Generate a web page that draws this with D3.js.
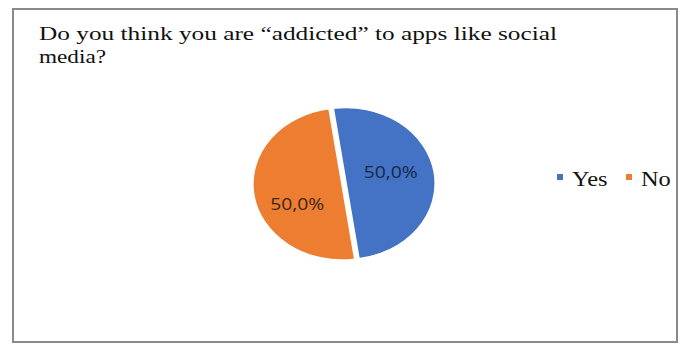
<!DOCTYPE html>
<html>
<head>
<meta charset="utf-8">
<script src="https://cdn.jsdelivr.net/npm/d3@7"></script>
<style>
  body { margin: 0; background: #fff; }
  svg { display: block; }
</style>
</head>
<body>
<svg id="svg" width="683" height="344"></svg>
<script>
const SVG = d3.select("#svg"),
  W = 683,
  H = 344,
  SX = 1.17; // the picture is stretched sideways

const titleLines = ["Do you think you are \u201caddicted\u201d to apps like social", "media?"],
  categories = ["Yes", "No"],
  values = [50, 50],
  labels = ["50,0%", "50,0%"],
  colors = ["#4472c4", "#ed7d31"];

// frame
SVG.append("rect")
  .attr("x", 13)
  .attr("y", 9)
  .attr("width", 664)
  .attr("height", 333)
  .attr("fill", "#fff")
  .attr("stroke", "#8a8a8a")
  .attr("stroke-width", 2);

// title
titleLines.forEach((t, i) => {
  var txt = SVG.append("text")
    .attr("x", 39)
    .attr("y", 40 + i * 23)
    .attr("font-family", "Liberation Serif, Times New Roman, serif")
    .attr("font-size", 19.5)
    .attr("fill", "#111")
    .text(t);
  txt.attr("textLength", i == 0 ? 518 : 67).attr("lengthAdjust", "spacingAndGlyphs");
});

// pie
var A0 = -0.145,
  CX = 342,
  CY = 184,
  pie = d3.pie().sort(null).startAngle(A0).endAngle(A0 + 2 * Math.PI),
  R = 76,
  arc = d3.arc().innerRadius(0).outerRadius(R),
  labelArc = d3.arc().innerRadius(43).outerRadius(43),
  arcs = pie(values);

var g = SVG.append("g").attr("transform", `translate(${CX}, ${CY}) scale(${SX}, 1)`);

g.selectAll("path")
  .data(arcs)
  .join("path")
  .attr("d", arc)
  .attr("fill", (d, i) => colors[i])
  .attr("stroke", "#fff")
  .attr("stroke-width", 1.5)
  .attr("transform", (d, i) => {
    if (i != 0) return null;
    var a = (d.startAngle + d.endAngle) / 2;
    return `translate(${Math.sin(a) * 3.5}, ${-Math.cos(a) * 3.5})`;
  });

arcs.forEach((d, i) => {
  var c = labelArc.centroid({ startAngle: d.startAngle - 0.235, endAngle: d.endAngle - 0.235 });
  SVG.append("text")
    .attr("transform", `translate(${CX + c[0] * SX + 2}, ${CY + c[1] + 10}) scale(${SX}, 1)`)
    .attr("text-anchor", "middle")
    .attr("font-family", "Open Sans, Liberation Sans, sans-serif")
    .attr("font-size", 16.5)
    .attr("fill", i == 0 ? "#18264a" : "#3a2716")
    .text(labels[i]);
});

// legend
var lx = [557, 626];
categories.forEach((c, i) => {
  SVG.append("rect")
    .attr("x", lx[i])
    .attr("y", 174)
    .attr("width", 6)
    .attr("height", 6)
    .attr("fill", colors[i]);
  SVG.append("text")
    .attr("transform", `translate(${lx[i] + 15}, 185.5) scale(${SX + 0.05}, 1)`)
    .attr("font-family", "Liberation Serif, Times New Roman, serif")
    .attr("font-size", 20)
    .attr("fill", "#111")
    .text(c);
});
</script>
</body>
</html>
